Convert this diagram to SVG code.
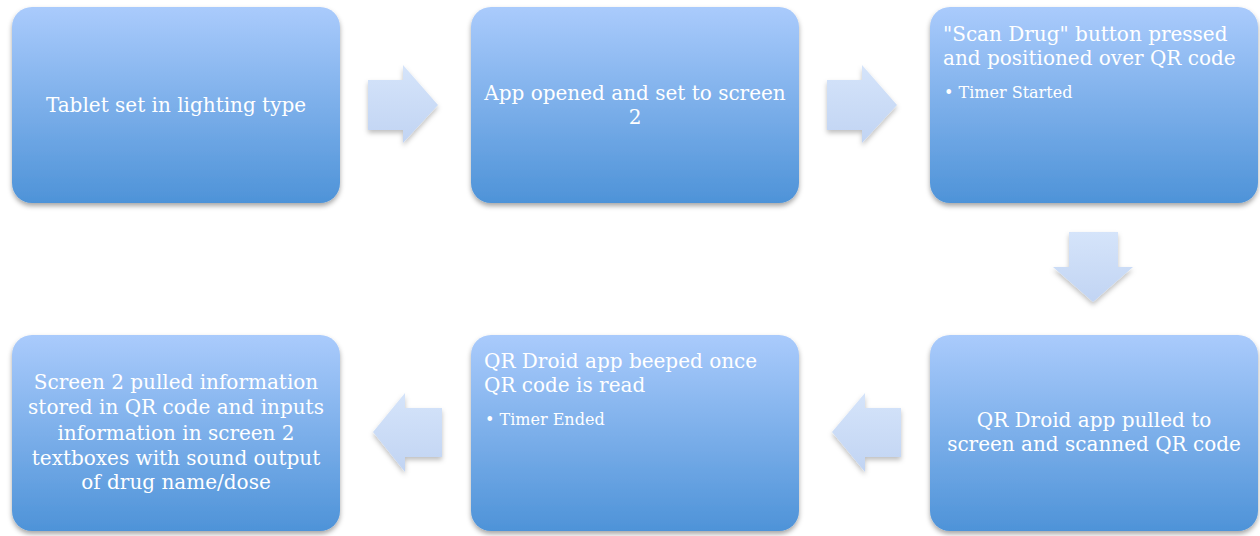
<svg xmlns="http://www.w3.org/2000/svg" width="1260" height="536" viewBox="0 0 1260 536">
<defs>
<linearGradient id="boxGrad" x1="0" y1="0" x2="0" y2="1">
<stop offset="0" stop-color="#aacbfc"/>
<stop offset="1" stop-color="#4e93d8"/>
</linearGradient>
<linearGradient id="arrGrad" x1="0" y1="0" x2="0" y2="1">
<stop offset="0" stop-color="#d5e4fa"/>
<stop offset="1" stop-color="#c1d4f3"/>
</linearGradient>
<filter id="shadow" x="-10%" y="-10%" width="120%" height="125%">
<feDropShadow dx="0" dy="3" stdDeviation="2.5" flood-color="#000" flood-opacity="0.35"/>
</filter>
<filter id="ashadow" x="-20%" y="-20%" width="140%" height="140%">
<feDropShadow dx="0" dy="3" stdDeviation="2.5" flood-color="#000" flood-opacity="0.25"/>
</filter>
</defs>
<style>
.box{fill:url(#boxGrad);filter:url(#shadow)}
.arr{fill:url(#arrGrad);filter:url(#ashadow)}
.t{font-family:"DejaVu Serif","Liberation Serif",serif;font-size:20px;fill:#ffffff}
.c{text-anchor:middle}
.b{font-family:"DejaVu Serif","Liberation Serif",serif;font-size:16px;fill:#ffffff}
</style>
<g id="connectors">
<path class="arr" d="M368 80 H403 V65 L438 105 L403 143 V130 H368 Z"/>
<path class="arr" d="M827 80 H862 V65 L897 105 L862 143 V130 H827 Z"/>
<path class="arr" d="M1069 232 H1118 V267 H1133 L1093 302 L1053 267 H1069 Z"/>
<path class="arr" d="M442 408 H405 V393 L373 432 L405 472 V457 H442 Z"/>
<path class="arr" d="M901 408 H865 V393 L832 432 L865 472 V457 H901 Z"/>
</g>
<g id="node1">
<rect class="box" x="12" y="7" width="328" height="196" rx="20"/>
<text class="t c" x="176" y="112">Tablet set in lighting type</text>
</g>
<g id="node2">
<rect class="box" x="471" y="7" width="328" height="196" rx="20"/>
<text class="t c" x="635" y="100">App opened and set to screen</text>
<text class="t c" x="635" y="124">2</text>
</g>
<g id="node3">
<rect class="box" x="930" y="7" width="328" height="196" rx="20"/>
<text class="t" x="943" y="41">"Scan Drug" button pressed</text>
<text class="t" x="943" y="65">and positioned over QR code</text>
<text class="b" x="944" y="98">• Timer Started</text>
</g>
<g id="node4">
<rect class="box" x="930" y="335" width="328" height="196" rx="20"/>
<text class="t c" x="1094" y="427">QR Droid app pulled to</text>
<text class="t c" x="1094" y="451">screen and scanned QR code</text>
</g>
<g id="node5">
<rect class="box" x="471" y="335" width="328" height="196" rx="20"/>
<text class="t" x="484" y="368">QR Droid app beeped once</text>
<text class="t" x="484" y="392">QR code is read</text>
<text class="b" x="485" y="425">• Timer Ended</text>
</g>
<g id="node6">
<rect class="box" x="12" y="335" width="328" height="196" rx="20"/>
<text class="t c" x="176" y="389">Screen 2 pulled information</text>
<text class="t c" x="176" y="414">stored in QR code and inputs</text>
<text class="t c" x="176" y="440">information in screen 2</text>
<text class="t c" x="176" y="465">textboxes with sound output</text>
<text class="t c" x="176" y="489">of drug name/dose</text>
</g>
</svg>
